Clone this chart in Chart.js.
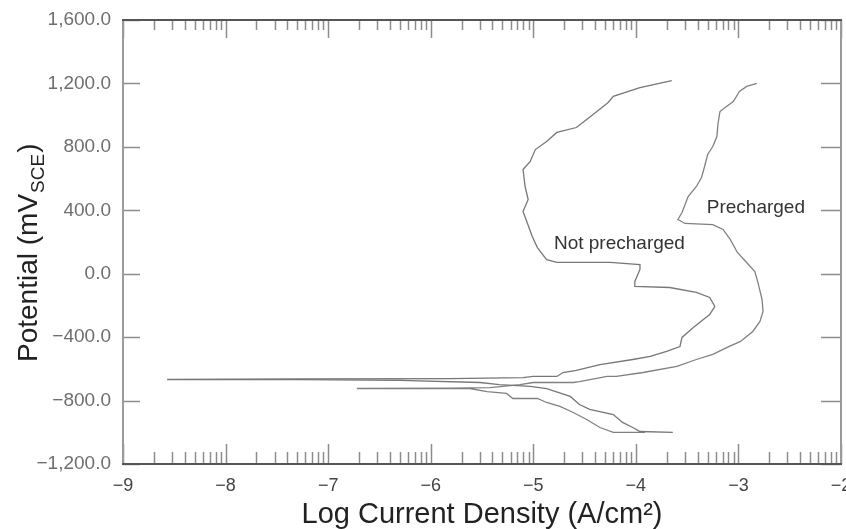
<!DOCTYPE html>
<html>
<head>
<meta charset="utf-8">
<script src="https://cdn.jsdelivr.net/npm/chart.js@4.4.1/dist/chart.umd.min.js"></script>
<style>
  html, body { margin: 0; padding: 0; background: #fff; }
  #wrap { width: 846px; height: 529px; position: relative; }
</style>
</head>
<body>
<div id="wrap"><canvas id="myChart"></canvas></div>
<script>
// values (log current density, potential in mV)
const notPrechargedLogI = [-3.64, -3.96, -4.03, -4.13, -4.22, -4.45, -4.55, -4.64, -4.87, -5.03, -5.33, -5.52, -6.30, -7.27, -8.57,
    -7.27, -5.81, -5.10, -5.00, -4.77, -4.71, -4.58, -4.35, -4.03, -3.86, -3.70, -3.57, -3.55, -3.44, -3.28, -3.23, -3.28, -3.41,
    -3.67, -4.01, -4.01, -3.96, -3.96, -4.25, -4.77, -4.87, -4.96, -5.01, -5.06, -5.10, -5.05, -5.08, -5.10, -5.03, -4.98, -4.87,
    -4.77, -4.58, -4.48, -4.38, -4.27, -4.22, -3.96, -3.65];
const notPrechargedE = [-1001, -995, -970, -938, -888, -856, -825, -774, -724, -711, -699, -686, -673, -667, -667,
    -664, -661, -655, -648, -648, -623, -610, -573, -541, -522, -490, -459, -402, -339, -257, -207, -150, -118,
    -87, -80, -49, 27, 58, 71, 71, 89, 165, 235, 323, 392, 468, 550, 657, 708, 783, 834,
    891, 922, 973, 1023, 1080, 1118, 1174, 1218];

const prechargedLogI = [-3.91, -4.22, -4.35, -4.48, -4.61, -4.74, -4.87, -4.96, -5.20, -5.26, -5.45, -5.62, -6.72,
    -5.81, -5.42, -5.13, -5.00, -4.61, -4.55, -4.28, -4.19, -3.93, -3.60, -3.41, -3.25, -3.11, -2.98, -2.86, -2.79,
    -2.76, -2.77, -2.81, -2.84, -2.92, -3.01, -3.08, -3.15, -3.25, -3.52, -3.59, -3.55, -3.49, -3.41, -3.36, -3.33,
    -3.30, -3.25, -3.21, -3.20, -3.18, -3.13, -3.05, -2.99, -2.92, -2.82];
const prechargedE = [-1001, -1001, -970, -919, -875, -837, -812, -787, -787, -755, -743, -724, -724,
    -721, -718, -699, -686, -686, -680, -648, -648, -623, -585, -541, -509, -465, -427, -364, -301,
    -238, -162, -55, 14, 71, 134, 216, 279, 310, 317, 342, 386, 487, 550, 607, 676,
    752, 802, 865, 941, 1023, 1048, 1086, 1149, 1181, 1200];

const xTicks = [-9, -8, -7, -6, -5, -4, -3, -2];
const yTicks = [-1200, -800, -400, 0, 400, 800, 1200, 1600];

const curveLabels = ['Not precharged', 'Precharged'];
const labelLogI = [-4.16, -2.83];
const labelE = [190, 418];

const FONT = '"Liberation Sans", Arial, Helvetica, sans-serif';

function toPoints(xs, ys) {
    return xs.map((v, i) => ({x: v, y: ys[i]}));
}

function minus(s) {
    return String(s).replace('-', '\u2212');
}

// inward ticks, frame, curve labels and the y title with subscript
const decorations = {
    id: 'decorations',
    afterDatasetsDraw(chart) {
        const {ctx, chartArea: a, scales: {x, y}} = chart;
        ctx.save();

        function seg(x1, y1, x2, y2) {
            ctx.beginPath();
            ctx.moveTo(x1, y1);
            ctx.lineTo(x2, y2);
            ctx.stroke();
        }

        ctx.strokeStyle = '#8c8c8c';
        ctx.lineWidth = 1.5;
        for (let d = xTicks[0]; d <= xTicks[xTicks.length - 1]; d++) {
            for (let k = 1; k <= 9; k++) {
                if (d === xTicks[xTicks.length - 1] && k > 1) break;
                const px = Math.round(x.getPixelForValue(d + Math.log10(k))) + 0.5;
                const major = k === 1;
                seg(px, a.bottom, px, a.bottom - (major ? 20 : 12));
                seg(px, a.top, px, a.top + (major ? 18 : 10));
            }
        }
        yTicks.forEach(v => {
            const py = Math.round(y.getPixelForValue(v)) + 0.5;
            seg(a.left, py, a.left + 17, py);
            seg(a.right, py, a.right - 20, py);
        });

        // frame
        ctx.lineWidth = 2;
        ctx.strokeStyle = '#9a9a9a';
        seg(a.left, a.top, a.left, a.bottom);
        seg(a.right, a.top, a.right, a.bottom);
        ctx.strokeStyle = '#555';
        seg(a.left - 1, a.top, a.right + 1, a.top);
        seg(a.left - 1, a.bottom, a.right + 1, a.bottom);

        // curve labels
        ctx.fillStyle = '#333';
        ctx.font = '19px ' + FONT;
        ctx.textAlign = 'center';
        ctx.textBaseline = 'middle';
        curveLabels.forEach((t, i) => {
            ctx.fillText(t, x.getPixelForValue(labelLogI[i]), y.getPixelForValue(labelE[i]));
        });

        // y axis title: Potential (mV_SCE)
        ctx.translate(37, 362);
        ctx.rotate(-Math.PI / 2);
        ctx.textAlign = 'left';
        ctx.textBaseline = 'alphabetic';
        ctx.fillStyle = '#222';
        ctx.font = '28px ' + FONT;
        const main = 'Potential (mV';
        ctx.fillText(main, 0, 0);
        let w = ctx.measureText(main).width;
        ctx.font = '19px ' + FONT;
        ctx.fillText('SCE', w + 1, 7);
        w += ctx.measureText('SCE').width + 2;
        ctx.font = '28px ' + FONT;
        ctx.fillText(')', w, 0);

        ctx.restore();
    }
};

const data = {
    datasets: [{
        label: curveLabels[0],
        data: toPoints(notPrechargedLogI, notPrechargedE),
        borderColor: '#777',
        borderWidth: 1.3,
        pointRadius: 0,
        showLine: true,
        tension: 0
    }, {
        label: curveLabels[1],
        data: toPoints(prechargedLogI, prechargedE),
        borderColor: '#808080',
        borderWidth: 1.3,
        pointRadius: 0,
        showLine: true,
        tension: 0
    }]
};

const config = {
    type: 'scatter',
    data: data,
    options: {
        responsive: true,
        maintainAspectRatio: false,
        animation: false,
        layout: {padding: {top: 20, right: 5, bottom: 0, left: 0}},
        plugins: {
            legend: {display: false},
            tooltip: {enabled: false}
        },
        scales: {
            x: {
                type: 'linear',
                min: -9,
                max: -2,
                afterBuildTicks: s => { s.ticks = xTicks.map(v => ({value: v})); },
                afterFit: s => { s.height = 65; s.paddingLeft = 0; s.paddingRight = 0; },
                grid: {display: false, drawTicks: false},
                border: {display: false},
                ticks: {
                    padding: 11,
                    color: '#444',
                    font: {family: FONT, size: 18},
                    maxRotation: 0,
                    callback: v => minus(v)
                },
                title: {
                    display: true,
                    text: 'Log Current Density (A/cm\u00b2)',
                    color: '#222',
                    font: {family: FONT, size: 29, lineHeight: 1},
                    padding: {top: 0, bottom: 0}
                }
            },
            y: {
                type: 'linear',
                min: -1200,
                max: 1600,
                afterBuildTicks: s => { s.ticks = yTicks.map(v => ({value: v})); },
                afterFit: s => { s.width = 123; s.paddingTop = 0; s.paddingBottom = 0; },
                grid: {display: false, drawTicks: false},
                border: {display: false},
                ticks: {
                    padding: 12,
                    color: '#6e6e6e',
                    font: {family: FONT, size: 19},
                    callback: v => minus(v.toLocaleString('en-US', {minimumFractionDigits: 1, maximumFractionDigits: 1}))
                }
            }
        }
    },
    plugins: [decorations]
};

const myChart = new Chart(document.getElementById('myChart'), config);
</script>
</body>
</html>
